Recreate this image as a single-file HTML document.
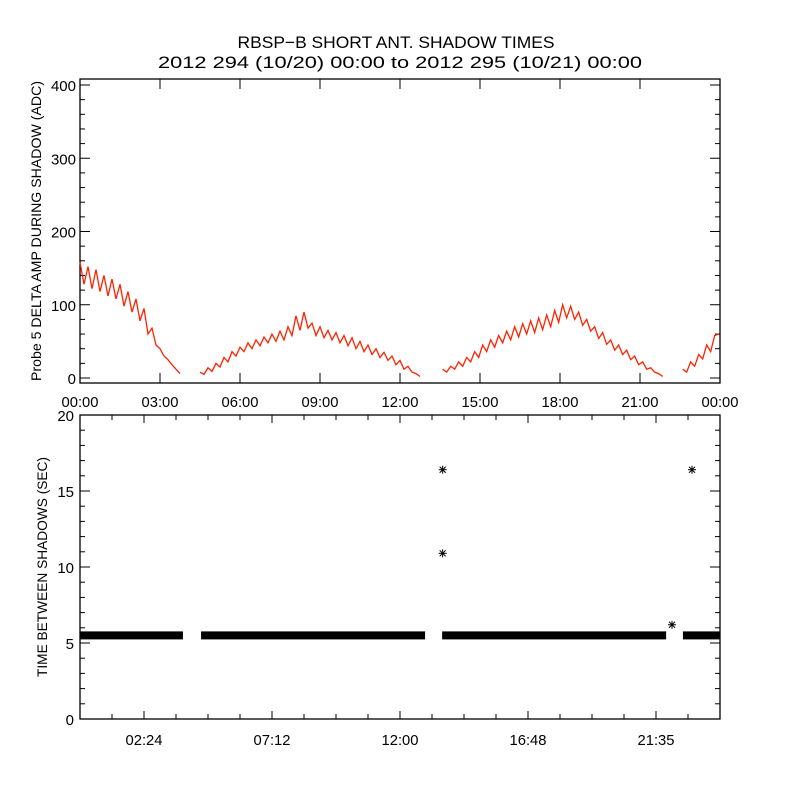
<!DOCTYPE html>
<html><head><meta charset="utf-8"><style>
body{margin:0;background:#fff}
svg text{font-family:"Liberation Sans",sans-serif;fill:#000}
</style></head><body>
<svg id="c" width="800" height="800" xmlns="http://www.w3.org/2000/svg">
<rect width="800" height="800" fill="#fff"/>
<text x="396" y="48" font-size="17" text-anchor="middle" textLength="317" lengthAdjust="spacingAndGlyphs">RBSP−B SHORT ANT. SHADOW TIMES</text>
<text x="400" y="68" font-size="17" text-anchor="middle" textLength="484" lengthAdjust="spacingAndGlyphs">2012 294 (10/20) 00:00 to 2012 295 (10/21) 00:00</text>
<text transform="translate(41,231) rotate(-90)" font-size="14" text-anchor="middle" textLength="300" lengthAdjust="spacingAndGlyphs">Probe 5 DELTA AMP DURING SHADOW (ADC)</text>
<text transform="translate(47,567) rotate(-90)" font-size="14" text-anchor="middle" textLength="220" lengthAdjust="spacingAndGlyphs">TIME BETWEEN SHADOWS (SEC)</text>
<g id="topPanel"></g><g id="botPanel"></g>
</svg>
<script>
// Top panel data: hi/lo readings every 0.3 h within each shadow segment
const seg1T0 = 0, seg1Hi = [158,152,148,140,135,128,118,108,95,68,40,25,12], seg1Lo = [128,122,118,112,108,98,90,78,60,45,30,18,6];
const seg2T0 = 4.5, seg2Hi = [8,14,20,28,36,42,48,52,56,60,64,70,85,90,75,70,65,62,58,55,50,45,40,35,30,24,16,6], seg2Lo = [5,9,15,22,30,36,40,44,48,50,52,58,65,68,58,55,52,48,44,40,36,32,28,24,18,12,8,2];
const seg3T0 = 13.6, seg3Hi = [12,16,22,28,36,45,52,58,64,70,74,78,82,86,92,100,98,90,80,70,62,52,45,38,30,22,14,6], seg3Lo = [8,12,16,22,28,36,42,48,52,56,60,62,66,70,76,82,80,72,64,54,46,38,32,25,18,12,8,2];
const seg4T0 = 22.6, seg4Hi = [12,22,32,45,58], seg4Lo = [8,16,26,36,60];
const topXTicks = ["00:00","03:00","06:00","09:00","12:00","15:00","18:00","21:00","00:00"];
const topYTicks = [0,100,200,300,400];
// Bottom panel data
const bandStart = [0, 4.54, 13.58, 22.61];
const bandEnd = [3.86, 12.94, 21.98, 24];
const bandValue = 5.5;
const starT = [13.6, 13.6, 22.2, 22.95];
const starV = [16.4, 10.9, 6.2, 16.4];
const botXTickHours = [2.4, 7.2, 12.0, 16.8, 21.6];
const botXLabels = ["02:24","07:12","12:00","16:48","21:35"];
const botYTicks = [0,5,10,15,20];

const NS="http://www.w3.org/2000/svg";
function mk(tag,attrs,parent){const e=document.createElementNS(NS,tag);for(const k in attrs)e.setAttribute(k,attrs[k]);parent.appendChild(e);return e;}
const L=80,R=720;
const xs=h=>L+h/24*(R-L);
const ty=v=>378-v*0.7325; const TT=79,TB=383;
const by=v=>719-v*(719-415)/20; const BT=415,BB=719;
const topG=document.getElementById('topPanel'), botG=document.getElementById('botPanel');

let f=mk('rect',{x:L,y:TT,width:R-L,height:TB-TT,fill:'none',stroke:'#000','stroke-width':1.3},topG);


for(let v=0;v<=400;v+=20){const y=ty(v),len=v%100===0?10:5;
 mk('line',{x1:L,y1:y,x2:L+len,y2:y,stroke:'#000'},topG);mk('line',{x1:R,y1:y,x2:R-len,y2:y,stroke:'#000'},topG);}
topYTicks.forEach(v=>{const t=mk('text',{x:L-4,y:ty(v)+6,'font-size':15,'text-anchor':'end'},topG);t.textContent=v;
 
 });
topXTicks.forEach((s,i)=>{const x=xs(i*3);
 mk('line',{x1:x,y1:TB,x2:x,y2:TB-10,stroke:'#000'},topG);mk('line',{x1:x,y1:TT,x2:x,y2:TT+10,stroke:'#000'},topG);
 const t=mk('text',{x:x,y:407,'font-size':15,'text-anchor':'middle',textLength:37,lengthAdjust:'spacingAndGlyphs'},topG);t.textContent=s;
 
 });
[[seg1T0,seg1Hi,seg1Lo],[seg2T0,seg2Hi,seg2Lo],[seg3T0,seg3Hi,seg3Lo],[seg4T0,seg4Hi,seg4Lo]].forEach((s,k)=>{
 const pts=[];s[1].forEach((h,i)=>{const t=s[0]+i*0.3;pts.push(xs(t)+','+ty(h));pts.push(xs(Math.min(24,t+0.15))+','+ty(s[2][i]));});
 const p=mk('polyline',{points:pts.join(' '),fill:'none',stroke:'#ff2200','stroke-width':1.3},topG);
 
 });

f=mk('rect',{x:L,y:BT,width:R-L,height:BB-BT,fill:'none',stroke:'#000','stroke-width':1.3},botG);


for(let v=0;v<=20;v+=1){const y=by(v),len=v%5===0?10:5;
 mk('line',{x1:L,y1:y,x2:L+len,y2:y,stroke:'#000'},botG);mk('line',{x1:R,y1:y,x2:R-len,y2:y,stroke:'#000'},botG);}
botYTicks.forEach(v=>{const t=mk('text',{x:L-6,y:by(v)+6,'font-size':15,'text-anchor':'end'},botG);t.textContent=v;
 
 });
for(let i=1;i<20;i++){const h=i*1.2,x=xs(h),len=(i%4===2)?8:5;
 mk('line',{x1:x,y1:BB,x2:x,y2:BB-len,stroke:'#000'},botG);mk('line',{x1:x,y1:BT,x2:x,y2:BT+len,stroke:'#000'},botG);}
botXTickHours.forEach((h,i)=>{const t=mk('text',{x:xs(h),y:745,'font-size':15,'text-anchor':'middle',textLength:37,lengthAdjust:'spacingAndGlyphs'},botG);t.textContent=botXLabels[i];
 
 });
bandStart.forEach((s,i)=>{const r=mk('rect',{x:xs(s),y:by(bandValue)-4,width:xs(bandEnd[i])-xs(s),height:8,fill:'#000'},botG);
 
 });
starT.forEach((t,i)=>{const x=xs(t),y=by(starV[i]);const g=mk('g',{stroke:'#000','stroke-width':1},botG);
 
 
 mk('line',{x1:x-4,y1:y,x2:x+4,y2:y},g);mk('line',{x1:x,y1:y-4,x2:x,y2:y+4},g);
 mk('line',{x1:x-3,y1:y-3,x2:x+3,y2:y+3},g);mk('line',{x1:x-3,y1:y+3,x2:x+3,y2:y-3},g);});
</script>
</body></html>
